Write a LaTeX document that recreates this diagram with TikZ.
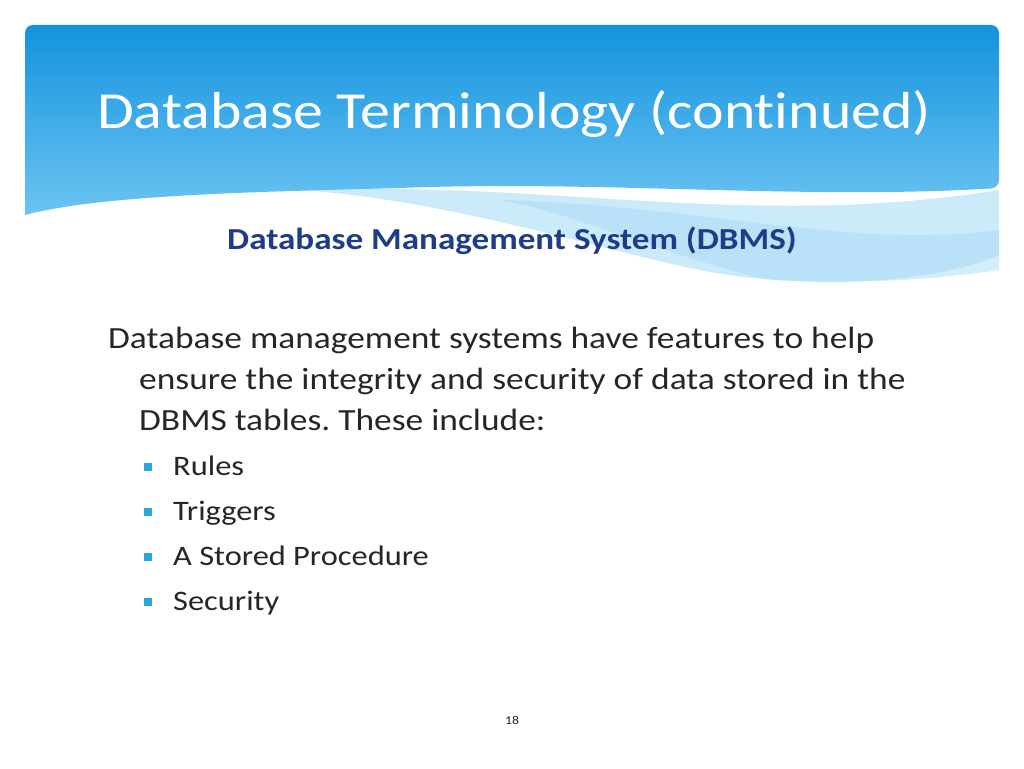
\documentclass[tikz,border=0pt]{standalone}
\usepackage{fontspec}
\setmainfont{Carlito}[FakeStretch=1.15,Ligatures=NoCommon]
\frenchspacing
\definecolor{hdtop}{HTML}{1393DE}
\definecolor{hdbot}{HTML}{6CC4F2}
\definecolor{swoosh}{HTML}{A9DCF7}
\definecolor{subblue}{HTML}{1F3C88}
\definecolor{bodytext}{HTML}{262626}
\definecolor{bulletblue}{HTML}{29A8E0}
\begin{document}
\begin{tikzpicture}[x=1pt,y=1pt,
    bodyline/.style={anchor=base west,text=bodytext,font=\fontsize{30.8}{36}\selectfont,inner sep=0pt},
    bulletline/.style={anchor=base west,text=bodytext,font=\fontsize{28.2}{33}\selectfont,inner sep=0pt},
    bulletmark/.style={fill=bulletblue,minimum size=8pt,inner sep=0pt}]
  \useasboundingbox[fill=white] (0,0) rectangle (1024,-768);

  % light swoosh bands
  \fill[swoosh,opacity=0.6] (300,-190) .. controls (550,-180) and (750,-230) .. (999,-190)
     -- (999,-255) .. controls (930,-285) and (800,-290) .. (700,-270)
     .. controls (600,-250) and (450,-200) .. (300,-190) -- cycle;
  \fill[swoosh,opacity=0.5] (500,-200) .. controls (700,-205) and (850,-250) .. (999,-230)
     -- (999,-270) .. controls (900,-285) and (800,-283) .. (760,-278)
     .. controls (650,-250) and (580,-215) .. (500,-200) -- cycle;

  % header
  \shade[top color=hdtop,bottom color=hdbot,rounded corners=8pt]
    (25,-215) -- (25,-25) -- (999,-25) -- (999,-188)
    [sharp corners] .. controls (800,-200) and (600,-180) .. (400,-188)
    .. controls (250,-192) and (100,-195) .. (25,-215) -- cycle;

  \node[anchor=base west,text=white,font=\fontsize{52}{62}\selectfont,inner sep=0pt] (title) at (97,-128) {Database Terminology (continued)};
  \node[anchor=base,text=subblue,font=\fontsize{30.5}{36}\selectfont\bfseries,inner sep=0pt] (sub) at (512,-249) {Database Management System (DBMS)};

  \node[bodyline] (l1) at (108,-348) {Database management systems have features to help};
  \node[bodyline] (l2) at (139,-389) {ensure the integrity and security of data stored in the};
  \node[bodyline] (l3) at (139,-430) {DBMS tables. These include:};

  \foreach \txt [count=\i] in {Rules,Triggers,A Stored Procedure,Security} {
    \node[bulletmark] (b\i) at (148,-467-45*\i+45) {};
    \node[bulletline] (t\i) at (173,-475-45*\i+45) {\txt};
  }

  \node[text=bodytext,font=\fontsize{12}{14}\selectfont] (page) at (512,-720) {18};
\end{tikzpicture}
\end{document}
